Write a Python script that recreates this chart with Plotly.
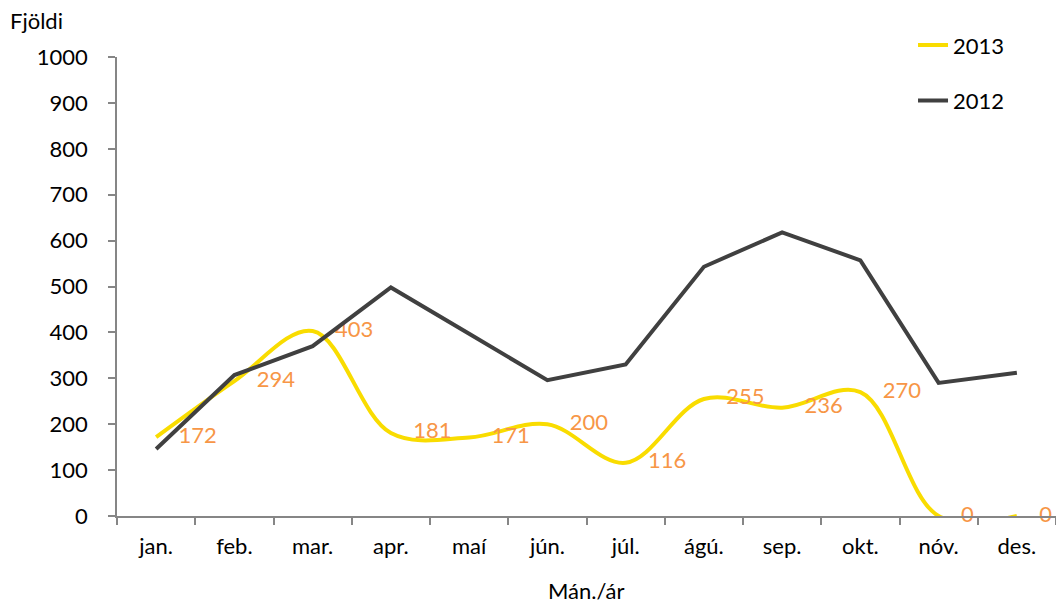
import plotly.graph_objects as go

# data
months = ["jan.", "feb.", "mar.", "apr.", "maí", "jún.", "júl.", "ágú.", "sep.", "okt.", "nóv.", "des."]
fjoldi_2013 = [172, 294, 403, 181, 171, 200, 116, 255, 236, 270, 0, 0]
fjoldi_2012 = [146, 307, 370, 498, 397, 296, 330, 543, 618, 557, 290, 312]
y_ticks = list(range(0, 1001, 100))

FONT = "Lato, 'Open Sans', sans-serif"
AXIS_GREY = "#868686"

fig = go.Figure()
fig.add_trace(go.Scatter(
    x=months, y=fjoldi_2013, name="2013", legendgroup="a",
    mode="lines+markers+text",
    line=dict(color="#F9DC00", width=4, shape="spline", smoothing=1),
    marker=dict(size=34, color="rgba(0,0,0,0)"),
    text=[str(v) for v in fjoldi_2013], textposition="middle right",
    textfont=dict(color="#F79646", size=22, family=FONT),
    cliponaxis=False,
))
fig.add_trace(go.Scatter(
    x=months, y=fjoldi_2012, name="2012", legendgroup="b",
    mode="lines",
    line=dict(color="#404040", width=4),
))

fig.update_layout(
    width=1056, height=604,
    margin=dict(l=117, r=0, t=57, b=88, autoexpand=False),
    plot_bgcolor="white", paper_bgcolor="white",
    font=dict(family=FONT, size=22, color="black"),
    legend=dict(xref="container", yref="container", x=0.8646, xanchor="left",
                y=0.96, yanchor="top",
                font=dict(size=22), tracegroupgap=24,
                bgcolor="rgba(0,0,0,0)"),
)
fig.update_xaxes(
    type="category", range=[-0.5, len(months) - 0.5],
    showgrid=False, showline=True, linecolor=AXIS_GREY, linewidth=1.5,
    ticks="outside", ticklen=7, tickcolor=AXIS_GREY, tickwidth=1.5,
    tickson="boundaries", ticklabelstandoff=10, layer="above traces",
    automargin=False,
)
fig.update_yaxes(
    range=[0, 1000], tickvals=y_ticks, showgrid=False, zeroline=False,
    showline=True, linecolor=AXIS_GREY, linewidth=1.5,
    ticks="outside", ticklen=7, tickcolor=AXIS_GREY, tickwidth=1.5,
    ticklabelstandoff=16, automargin=False,
)
fig.add_annotation(text="Fjöldi", xref="paper", yref="paper", x=0, y=1,
                   xshift=-109, yshift=37, xanchor="left", yanchor="middle",
                   showarrow=False, font=dict(size=22))
fig.add_annotation(text="Mán./ár", xref="paper", yref="paper", x=0.5, y=0,
                   yshift=-74, xanchor="center", yanchor="middle",
                   showarrow=False, font=dict(size=22))

# drop the default body margin so the figure fills the window exactly
fig.write_html("out.html", config={"displayModeBar": False},
               post_script="document.body.style.margin='0';document.body.style.overflow='hidden';")
